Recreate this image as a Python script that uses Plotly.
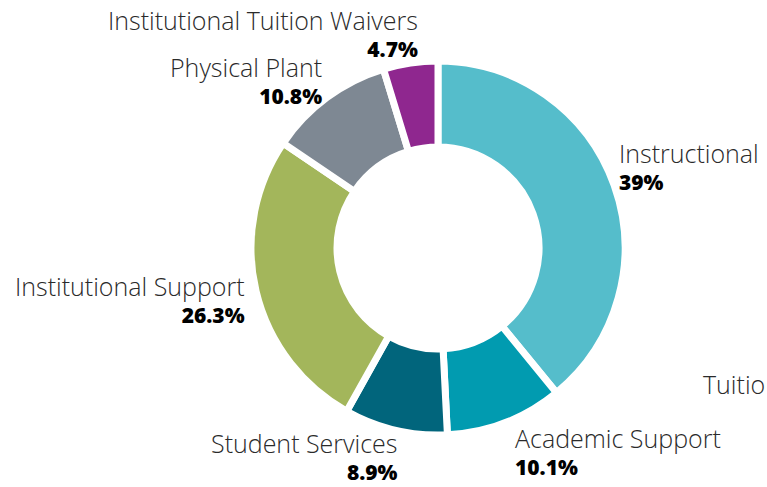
import plotly.graph_objects as go

categories = ["Instructional", "Academic Support", "Student Services",
              "Institutional Support", "Physical Plant", "Institutional Tuition Waivers"]
values = [39, 10.1, 8.9, 26.3, 10.8, 4.7]
pct_labels = ["39%", "10.1%", "8.9%", "26.3%", "10.8%", "4.7%"]
colors = ["#55BDCB", "#019BB0", "#01657C", "#A3B65B", "#7E8893", "#8F278F"]

W, H = 767, 487
cx, cy, r = 438, 248, 187

fig = go.Figure(go.Pie(
    labels=categories, values=values, sort=False, direction="clockwise",
    rotation=0, hole=0.54, textinfo="none", hoverinfo="label+percent",
    marker=dict(colors=colors, line=dict(color="white", width=7)),
    domain=dict(x=[(cx - r) / W, (cx + r) / W],
                y=[(H - cy - r) / H, (H - cy + r) / H]),
    showlegend=False,
))

# label positions (pixels): x, anchor, center y of the two-line block
label_pos = [
    (618, "left", 166),
    (514, "left", 451),
    (399, "right", 456),
    (246, "right", 299),
    (323, "right", 80),
    (419, "right", 33),
]

fam = "Open Sans, Noto Sans, sans-serif"
anns = []
for name, pct, (px, anchor, y) in zip(categories, pct_labels, label_pos):
    txt = ("<span style='font-size:25px;font-weight:300;color:#2a2a2a'>" + name +
           "</span><br><span style='font-weight:800;color:#000000'>" + pct + "</span>")
    anns.append(dict(x=px / W, y=1 - y / H, xref="paper", yref="paper", text=txt,
                     showarrow=False, xanchor=anchor, yanchor="middle", align=anchor,
                     font=dict(family=fam, size=21, color="#000000"), borderpad=0))
anns.append(dict(x=702 / W, y=1 - 384 / H, xref="paper", yref="paper", text="Tuitio",
                 showarrow=False, xanchor="left", yanchor="middle",
                 font=dict(family=fam, size=25, color="#2a2a2a", weight=300), borderpad=0))

fig.update_layout(width=W, height=H, margin=dict(l=0, r=0, t=0, b=0),
                  paper_bgcolor="white", plot_bgcolor="white", annotations=anns)
fig.write_html("out.html", config={"displayModeBar": False},
               post_script="document.body.style.margin='0';")
